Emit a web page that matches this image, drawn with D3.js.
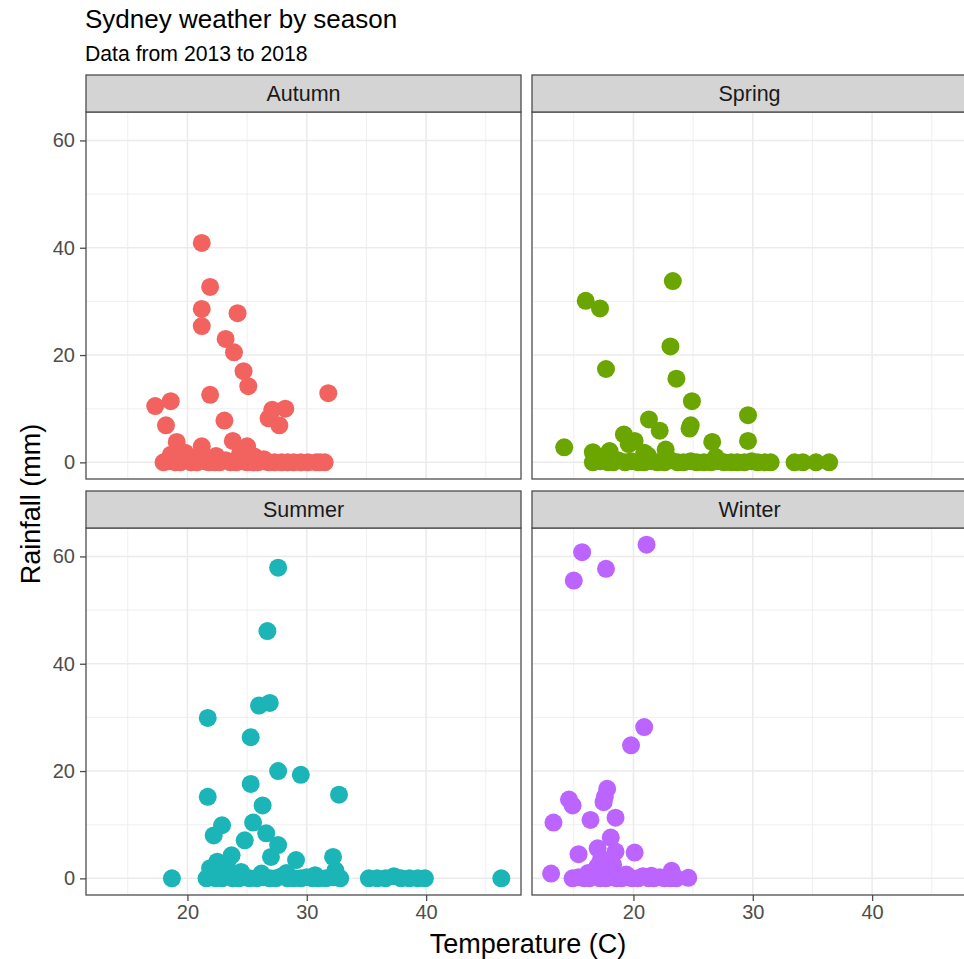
<!DOCTYPE html>
<html>
<head>
<meta charset="utf-8">
<script src="https://cdn.jsdelivr.net/npm/d3@7"></script>
<style>
  body { margin: 0; background: #fff; }
  text { font-family: "Liberation Sans", Arial, Helvetica, sans-serif; }
</style>
</head>
<body>
<svg id="chart" width="964" height="959"></svg>
<script>
// Facets, in drawing order (left-to-right, top-to-bottom)
const seasons = ["Autumn", "Spring", "Summer", "Winter"];
const seasonColors = ["#F2635F", "#6BA500", "#1BB5B8", "#BB64FF"];

// Axis breaks
const xTicks = [20, 30, 40];
const xMinorTicks = [15, 25, 35, 45];
const yTicks = [0, 20, 40, 60];
const yMinorTicks = [10, 30, 50];

// Daily max temperature (C) and rainfall (mm) per season
const autumnTemp = [21.2, 21.9, 21.2, 21.2, 24.2, 23.2, 23.9, 24.7, 25.1, 21.9, 31.8, 17.3, 18.6, 18.2, 23.1,
  27.1, 28.2, 26.8, 27.7, 19.1, 21.2, 23.8, 25.0,
  18.6, 19.8, 20.6, 22.4, 24.4, 25.6, 26.4,
  18.0, 18.5, 19.0, 19.4, 19.9, 20.3, 20.8, 21.4, 21.8, 22.3, 22.7, 23.2, 23.6, 24.1, 24.6, 25.0,
  25.5, 25.9, 26.4, 26.8, 27.3, 27.9, 28.4, 28.9, 29.5, 30.1, 30.8, 31.1, 31.5];
const autumnRain = [40.9, 32.7, 28.6, 25.4, 27.8, 23.0, 20.5, 17.0, 14.2, 12.6, 12.9, 10.5, 11.4, 6.9, 7.8,
  9.8, 10.0, 8.2, 6.9, 3.8, 3.0, 4.0, 3.0,
  1.4, 1.8, 0.8, 1.2, 1.6, 1.1, 0.6,
  0, 0.2, 0, 0, 0.4, 0, 0, 0.2, 0, 0, 0, 0.4, 0, 0, 0.2, 0,
  0, 0, 0.2, 0, 0, 0, 0, 0, 0, 0, 0, 0, 0];

const springTemp = [23.3, 16.0, 17.2, 23.1, 17.7, 23.6, 24.9, 29.6, 21.3, 22.2, 24.8, 24.7, 26.6, 29.6, 14.2,
  19.2, 20.1, 19.6, 16.6, 18.0, 22.7, 21.2, 26.9, 17.5, 20.9,
  16.6, 17.2, 17.9, 18.3, 18.7, 19.3, 19.8, 20.4, 20.9, 21.5, 22.0, 22.6, 23.1, 23.7, 24.2, 24.8,
  25.3, 25.9, 26.5, 27.0, 27.6, 28.2, 28.7, 29.3, 29.9, 30.4, 31.0, 31.5, 33.5, 34.2, 35.3, 36.4];
const springRain = [33.8, 30.1, 28.7, 21.6, 17.4, 15.6, 11.4, 8.8, 8.0, 5.9, 6.9, 6.3, 3.8, 4.0, 2.8,
  5.2, 4.0, 3.4, 1.9, 2.1, 2.4, 1.3, 1.0, 0.6, 1.8,
  0, 0.2, 0, 0, 0.4, 0, 0.2, 0, 0, 0.2, 0, 0, 0.4, 0, 0, 0.2,
  0, 0, 0, 0.2, 0, 0, 0, 0, 0.2, 0, 0, 0, 0, 0, 0, 0];

const summerTemp = [27.6, 26.7, 26.0, 26.9, 21.7, 25.3, 27.6, 29.5, 25.3, 32.7, 21.7, 26.3, 25.5, 22.9, 22.2,
  26.6, 24.8, 27.6, 27.0, 23.7, 22.5, 29.1, 32.2,
  21.9, 23.3, 24.5, 26.2, 28.3, 30.7, 32.4, 22.8,
  18.7, 21.6, 22.0, 22.4, 22.9, 23.4, 23.8, 24.3, 24.7, 25.2, 25.8, 26.3, 26.9, 27.4, 27.9, 28.4,
  28.9, 29.5, 30.0, 30.5, 31.0, 31.6, 32.2, 32.8, 35.2, 35.9, 36.6, 37.3, 37.9, 38.6, 39.3, 39.9, 46.3];
const summerRain = [57.9, 46.1, 32.2, 32.7, 29.9, 26.3, 20.0, 19.3, 17.6, 15.6, 15.2, 13.6, 10.4, 9.9, 8.0,
  8.4, 7.1, 6.2, 4.0, 4.3, 3.1, 3.4, 4.0,
  1.9, 2.8, 1.2, 0.9, 1.0, 0.6, 1.5, 0.8,
  0, 0, 0.2, 0, 0, 0.4, 0, 0, 0.2, 0, 0, 0.2, 0, 0, 0.4, 0,
  0, 0, 0.2, 0, 0, 0, 0.2, 0, 0, 0, 0, 0.4, 0, 0, 0, 0, 0];

const winterTemp = [21.1, 15.7, 17.7, 15.0, 20.9, 19.8, 17.8, 14.6, 14.9, 17.6, 17.5, 13.3, 16.4, 18.5, 18.1,
  15.4, 17.0, 20.1, 18.5, 17.3, 18.3, 17.0, 13.1, 24.6, 23.2, 16.2, 19.4, 21.5,
  14.9, 15.4, 15.9, 16.3, 16.8, 17.2, 17.7, 18.1, 18.6, 19.0, 19.5, 19.9, 20.4, 20.8, 21.3, 21.7,
  22.2, 22.6, 23.1, 23.6];
const winterRain = [62.2, 60.8, 57.7, 55.5, 28.2, 24.8, 16.7, 14.7, 13.6, 15.2, 14.2, 10.4, 10.9, 11.3, 7.6,
  4.5, 5.6, 4.8, 5.0, 3.7, 2.5, 2.3, 0.9, 0.1, 1.4, 1.0, 0.7, 0.5,
  0, 0.2, 0, 0, 0.4, 0, 0, 0.2, 0, 0, 0.2, 0, 0, 0.4, 0, 0,
  0.2, 0, 0, 0];

const seasonTemps = [autumnTemp, springTemp, summerTemp, winterTemp];
const seasonRains = [autumnRain, springRain, summerRain, winterRain];

// ---- layout ----
const svg = d3.select("#chart");
const panelW = 435, panelH = 367, stripH = 37;
const colX = [86, 532];
const rowY = [112, 528];

const x = d3.scaleLinear().domain([11.5, 47.95]).range([0, panelW]);
const y = d3.scaleLinear().domain([-3.1, 65.3]).range([panelH, 0]);

const borderColor = "#4d4d4d";
const gridColor = "#EBEBEB";
const tickTextColor = "#4D4D4D";

// Titles
svg.append("text").attr("x", 85).attr("y", 28)
  .attr("font-size", 26).attr("fill", "#000").text("Sydney weather by season");
svg.append("text").attr("x", 85).attr("y", 61)
  .attr("font-size", 21.2).attr("fill", "#000").text("Data from 2013 to 2018");

const defs = svg.append("defs");

seasons.forEach((name, i) => {
  const col = i % 2, row = Math.floor(i / 2);
  const g = svg.append("g").attr("transform", `translate(${colX[col]},${rowY[row]})`);

  defs.append("clipPath").attr("id", "clip" + i)
    .append("rect").attr("width", panelW).attr("height", panelH);

  // grid: minor then major
  const grid = g.append("g");
  grid.selectAll(".vminor").data(xMinorTicks).join("line")
    .attr("x1", d => x(d)).attr("x2", d => x(d)).attr("y1", 0).attr("y2", panelH)
    .attr("stroke", gridColor).attr("stroke-width", 0.8);
  grid.selectAll(".hminor").data(yMinorTicks).join("line")
    .attr("y1", d => y(d)).attr("y2", d => y(d)).attr("x1", 0).attr("x2", panelW)
    .attr("stroke", gridColor).attr("stroke-width", 0.8);
  grid.selectAll(".vmajor").data(xTicks).join("line")
    .attr("x1", d => x(d)).attr("x2", d => x(d)).attr("y1", 0).attr("y2", panelH)
    .attr("stroke", gridColor).attr("stroke-width", 1.5);
  grid.selectAll(".hmajor").data(yTicks).join("line")
    .attr("y1", d => y(d)).attr("y2", d => y(d)).attr("x1", 0).attr("x2", panelW)
    .attr("stroke", gridColor).attr("stroke-width", 1.5);

  // points
  const pts = seasonTemps[i].map((t, k) => ({ t, r: seasonRains[i][k] }));
  g.append("g").attr("clip-path", `url(#clip${i})`)
    .selectAll("circle").data(pts).join("circle")
    .attr("cx", d => x(d.t)).attr("cy", d => y(d.r)).attr("r", 9)
    .attr("fill", seasonColors[i]);

  // panel border
  g.append("rect").attr("width", panelW).attr("height", panelH)
    .attr("fill", "none").attr("stroke", borderColor).attr("stroke-width", 1.3);

  // strip
  const strip = g.append("g").attr("transform", `translate(0,${-stripH})`);
  strip.append("rect").attr("width", panelW).attr("height", stripH)
    .attr("fill", "#D4D4D4").attr("stroke", borderColor).attr("stroke-width", 1.3);
  strip.append("text").attr("x", panelW / 2).attr("y", stripH / 2).attr("dy", "0.36em")
    .attr("text-anchor", "middle").attr("font-size", 21.5).attr("fill", "#1A1A1A").text(name);

  // axes on outer panels
  if (row === 1) {
    const ax = g.append("g").attr("transform", `translate(0,${panelH})`)
      .call(d3.axisBottom(x).tickValues(xTicks).tickSize(6).tickPadding(4).tickFormat(d3.format("d")));
    ax.select(".domain").remove();
    ax.selectAll("line").attr("stroke", borderColor).attr("stroke-width", 1.3);
    ax.selectAll("text").attr("font-size", 20).attr("fill", tickTextColor).attr("font-family", null);
  }
  if (col === 0) {
    const ay = g.append("g")
      .call(d3.axisLeft(y).tickValues(yTicks).tickSize(6).tickPadding(5).tickFormat(d3.format("d")));
    ay.select(".domain").remove();
    ay.selectAll("line").attr("stroke", borderColor).attr("stroke-width", 1.3);
    ay.selectAll("text").attr("font-size", 20).attr("fill", tickTextColor).attr("font-family", null);
  }
});

// Axis titles
svg.append("text").attr("x", 528).attr("y", 953).attr("text-anchor", "middle")
  .attr("font-size", 27).attr("fill", "#000").text("Temperature (C)");
svg.append("text").attr("transform", "translate(40,504) rotate(-90)").attr("text-anchor", "middle")
  .attr("font-size", 27).attr("fill", "#000").text("Rainfall (mm)");
</script>
</body>
</html>
